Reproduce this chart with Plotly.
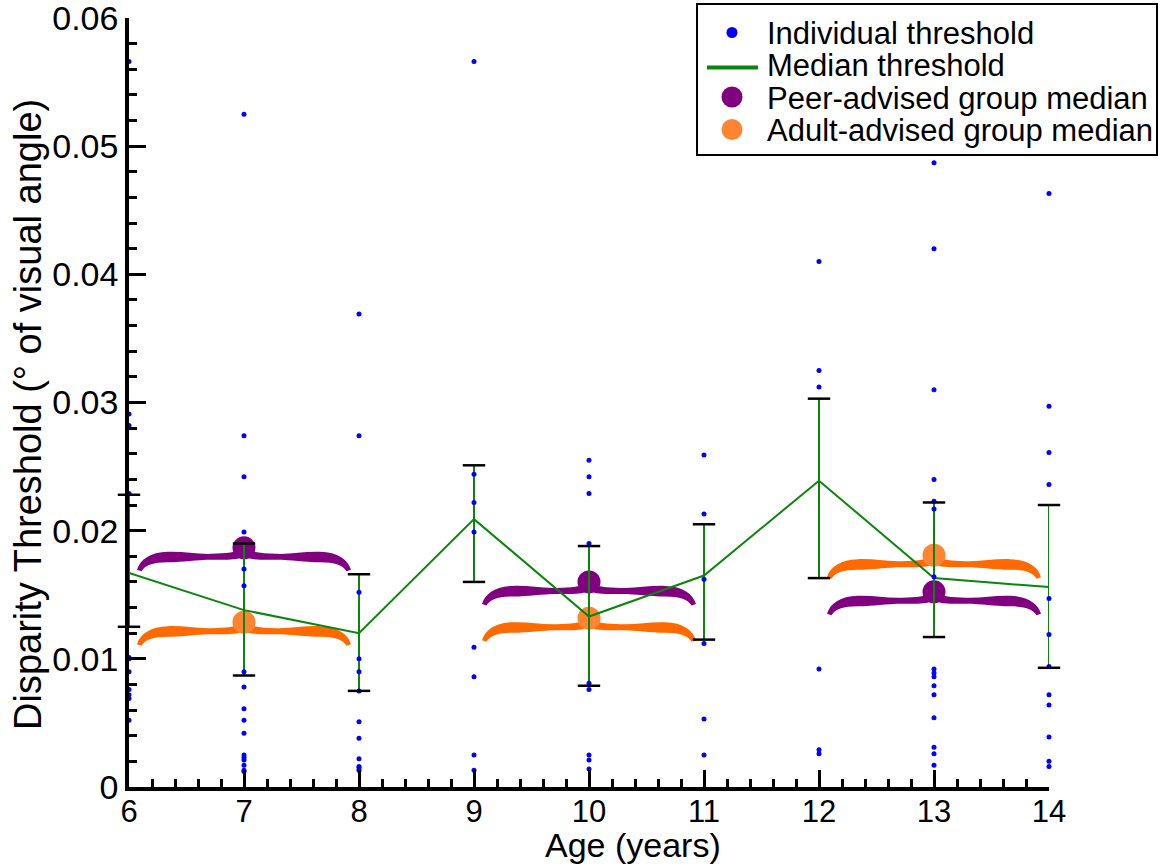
import plotly.graph_objects as go

# ---- data -------------------------------------------------------------
ages = [6, 7, 8, 9, 10, 11, 12, 13, 14]
median_thr = [0.0167, 0.0138, 0.0120, 0.0209, 0.0133, 0.0165, 0.0239, 0.0163, 0.0156]
err_low = [0.0125, 0.0087, 0.0075, 0.0160, 0.0079, 0.0115, 0.0163, 0.0117, 0.0093]
err_high = [0.0228, 0.0190, 0.0166, 0.0251, 0.0188, 0.0205, 0.0303, 0.0222, 0.0220]

thr_age6 = [0.0566, 0.0291, 0.0282, 0.0229, 0.0101, 0.0100, 0.0090, 0.0076, 0.0072, 0.0069, 0.0052]
thr_age7 = [0.0525, 0.0274, 0.0242, 0.0199, 0.0170, 0.0157, 0.0090, 0.0078, 0.0061, 0.0052,
            0.0042, 0.0025, 0.0023, 0.0021, 0.0017, 0.0013, 0.0012]
thr_age8 = [0.0369, 0.0274, 0.0152, 0.0100, 0.0090, 0.0075, 0.0051, 0.0038, 0.0022, 0.0016, 0.0015, 0.0013]
thr_age9 = [0.0566, 0.0244, 0.0222, 0.0199, 0.0109, 0.0086, 0.0025, 0.0013]
thr_age10 = [0.0255, 0.0242, 0.0229, 0.0190, 0.0081, 0.0076, 0.0025, 0.0021, 0.0014]
thr_age11 = [0.0259, 0.0213, 0.0162, 0.0112, 0.0053, 0.0025]
thr_age12 = [0.0410, 0.0325, 0.0312, 0.0092, 0.0029, 0.0026]
thr_age13 = [0.0487, 0.0420, 0.0310, 0.0240, 0.0223, 0.0217, 0.0164, 0.0092, 0.0089, 0.0086,
             0.0079, 0.0072, 0.0054, 0.0031, 0.0026, 0.0017]
thr_age14 = [0.0463, 0.0297, 0.0261, 0.0236, 0.0147, 0.0119, 0.0094, 0.0072, 0.0064, 0.0039, 0.0020, 0.0016]
individual = [thr_age6, thr_age7, thr_age8, thr_age9, thr_age10,
              thr_age11, thr_age12, thr_age13, thr_age14]

group_ages = [7, 10, 13]
peer_median = [0.01866, 0.0160, 0.01523]
adult_median = [0.01286, 0.01317, 0.01809]

x_ticks = [6, 7, 8, 9, 10, 11, 12, 13, 14]
x_tick_text = ["6", "7", "8", "9", "10", "11", "12", "13", "14"]
y_ticks = [0, 0.01, 0.02, 0.03, 0.04, 0.05, 0.06]
y_tick_text = ["0", "0.01", "0.02", "0.03", "0.04", "0.05", "0.06"]

legend_labels = ["Individual threshold", "Median threshold",
                 "Peer-advised group median", "Adult-advised group median"]

# ---- layout geometry ----------------------------------------------------
FIG_W, FIG_H = 1162, 867
M_L, M_R, M_T, M_B = 129, 113, 18, 80
X_RANGE = [6, 14]
Y_RANGE = [0, 0.06]
PLOT_W = FIG_W - M_L - M_R
PLOT_H = FIG_H - M_T - M_B
KX = (X_RANGE[1] - X_RANGE[0]) / PLOT_W   # data units per pixel
KY = (Y_RANGE[1] - Y_RANGE[0]) / PLOT_H

FONT = "Liberation Sans, Arial, Helvetica, sans-serif"
BLUE = "#0000FF"
PURPLE = "#800080"
ORANGE_BRACE = "#FF6A00"
ORANGE_DOT = "#FF8533"
GREEN = "#0B850B"


def px_to_paper_x(px):
    return (px - M_L) / PLOT_W


def px_to_paper_y(py):
    return (FIG_H - M_B - py) / PLOT_H


def brace_path(cx, cy):
    """Filled overbrace centred on (cx, cy); offsets given in screen pixels."""
    half = [
        ("M", [(0, 0)]),
        ("C", [(8, 5), (18, 5.5), (32, 6)]),
        ("C", [(48, 6.5), (60, 3.5), (76, 4)]),
        ("C", [(94, 4.5), (104, 12), (107, 22)]),
        ("L", [(102.5, 23.5)]),
        ("C", [(99, 17.5), (91, 14.5), (76, 14.5)]),
        ("C", [(60, 14.5), (48, 12), (32, 12)]),
        ("C", [(18, 12), (8, 12.5), (0, 9)]),
    ]
    parts = []
    for side in (1, -1):
        for cmd, pts in half:
            coords = " ".join(f"{cx + side * px * KX:.5f},{cy - py * KY:.6f}" for px, py in pts)
            parts.append(f"{cmd} {coords}")
        parts.append("Z")
    return " ".join(parts)


fig = go.Figure()

# group medians (drawn first so the median line sits on top)
fig.add_trace(go.Scatter(
    x=group_ages, y=peer_median, mode="markers", name="Peer-advised group median",
    marker=dict(color=PURPLE, size=23, line=dict(width=0)), cliponaxis=False))
fig.add_trace(go.Scatter(
    x=group_ages, y=adult_median, mode="markers", name="Adult-advised group median",
    marker=dict(color=ORANGE_DOT, size=23, line=dict(width=0)), cliponaxis=False))

# median threshold with interquartile error bars
fig.add_trace(go.Scatter(
    x=ages, y=median_thr, mode="lines", name="Median threshold",
    line=dict(color=GREEN, width=2),
    error_y=dict(type="data", symmetric=False,
                 array=[h - m for h, m in zip(err_high, median_thr)],
                 arrayminus=[m - l for m, l in zip(median_thr, err_low)],
                 color=GREEN, thickness=2, width=0),
    cliponaxis=False))

# individual thresholds
ind_x, ind_y = [], []
for age, vals in zip(ages, individual):
    ind_x += [age] * len(vals)
    ind_y += vals
fig.add_trace(go.Scatter(
    x=ind_x, y=ind_y, mode="markers", name="Individual threshold",
    marker=dict(color=BLUE, size=5, line=dict(width=0)), cliponaxis=False))

# black caps on the error bars
fig.add_trace(go.Scatter(
    x=ages + ages, y=err_low + err_high, mode="markers", name="caps",
    marker=dict(symbol="line-ew", size=16, color="black", line=dict(color="black", width=2.5)),
    cliponaxis=False))

# braces under each group median
shapes = []
for gx, py_, ay in zip(group_ages, peer_median, adult_median):
    shapes.append(dict(type="path", path=brace_path(gx, py_), xref="x", yref="y",
                       fillcolor=PURPLE, line=dict(width=0), layer="below"))
    shapes.append(dict(type="path", path=brace_path(gx, ay), xref="x", yref="y",
                       fillcolor=ORANGE_BRACE, line=dict(width=0), layer="below"))

# ---- legend box (compact rows) -------------------------------------------
LEG_LEFT, LEG_RIGHT, LEG_TOP, LEG_BOTTOM = 697, 1157, 4, 155
ROW_Y = [32.5, 64.5, 97, 129.5]
SYM_X = 732
TEXT_X = 765

shapes.append(dict(type="rect", xref="paper", yref="paper",
                   x0=px_to_paper_x(LEG_LEFT), x1=px_to_paper_x(LEG_RIGHT),
                   y0=px_to_paper_y(LEG_BOTTOM), y1=px_to_paper_y(LEG_TOP),
                   line=dict(color="black", width=2), fillcolor="white", layer="above"))


def legend_dot(row, color, diameter):
    r = diameter / 2
    return dict(type="circle", xref="paper", yref="paper",
                xsizemode="pixel", ysizemode="pixel",
                xanchor=px_to_paper_x(SYM_X), yanchor=px_to_paper_y(ROW_Y[row]),
                x0=-r, x1=r, y0=-r, y1=r,
                fillcolor=color, line=dict(width=0), layer="above")


shapes.append(legend_dot(0, BLUE, 11))
shapes.append(dict(type="line", xref="paper", yref="paper",
                   x0=px_to_paper_x(707), x1=px_to_paper_x(758),
                   y0=px_to_paper_y(ROW_Y[1] + 3), y1=px_to_paper_y(ROW_Y[1] + 3),
                   line=dict(color=GREEN, width=4), layer="above"))
shapes.append(legend_dot(2, PURPLE, 21))
shapes.append(legend_dot(3, ORANGE_DOT, 21))

annotations = []
for row, label in enumerate(legend_labels):
    annotations.append(dict(text=label, xref="paper", yref="paper",
                            x=px_to_paper_x(TEXT_X), y=px_to_paper_y(ROW_Y[row] + 1),
                            xanchor="left", yanchor="middle", showarrow=False,
                            font=dict(family=FONT, size=31, color="black")))

annotations += [
    dict(text="Age (years)", xref="paper", yref="paper",
         x=px_to_paper_x(633), y=px_to_paper_y(845), xanchor="center", yanchor="middle",
         showarrow=False, font=dict(family=FONT, size=34, color="black")),
    dict(text="Disparity Threshold (° of visual angle)", xref="paper", yref="paper",
         x=px_to_paper_x(28), y=px_to_paper_y(415), xanchor="center", yanchor="middle",
         textangle=-90, showarrow=False, font=dict(family=FONT, size=38, color="black")),
]

axis_common = dict(
    showline=True, linecolor="black", linewidth=3.5, mirror=False,
    showgrid=False, zeroline=False, ticklabeloverflow="allow",
    ticks="inside", ticklen=17, tickwidth=3, tickcolor="black",
)

fig.update_layout(
    width=FIG_W, height=FIG_H,
    margin=dict(l=M_L, r=M_R, t=M_T, b=M_B, autoexpand=False),
    paper_bgcolor="white", plot_bgcolor="white",
    font=dict(family=FONT, color="black"),
    showlegend=False,
    shapes=shapes,
    annotations=annotations,
    xaxis=dict(range=X_RANGE, tickvals=x_ticks, ticktext=x_tick_text,
               tickfont=dict(family=FONT, size=31, color="black"), ticklabelstandoff=-6,
               minor=dict(dtick=0.2, ticks="inside", ticklen=8, tickwidth=2.5, tickcolor="black"),
               **axis_common),
    yaxis=dict(range=Y_RANGE, tickvals=y_ticks, ticktext=y_tick_text,
               tickfont=dict(family=FONT, size=34, color="black"),
               minor=dict(dtick=0.002, ticks="inside", ticklen=8, tickwidth=2.5, tickcolor="black"),
               **axis_common),
)

fig.write_html("out.html")
